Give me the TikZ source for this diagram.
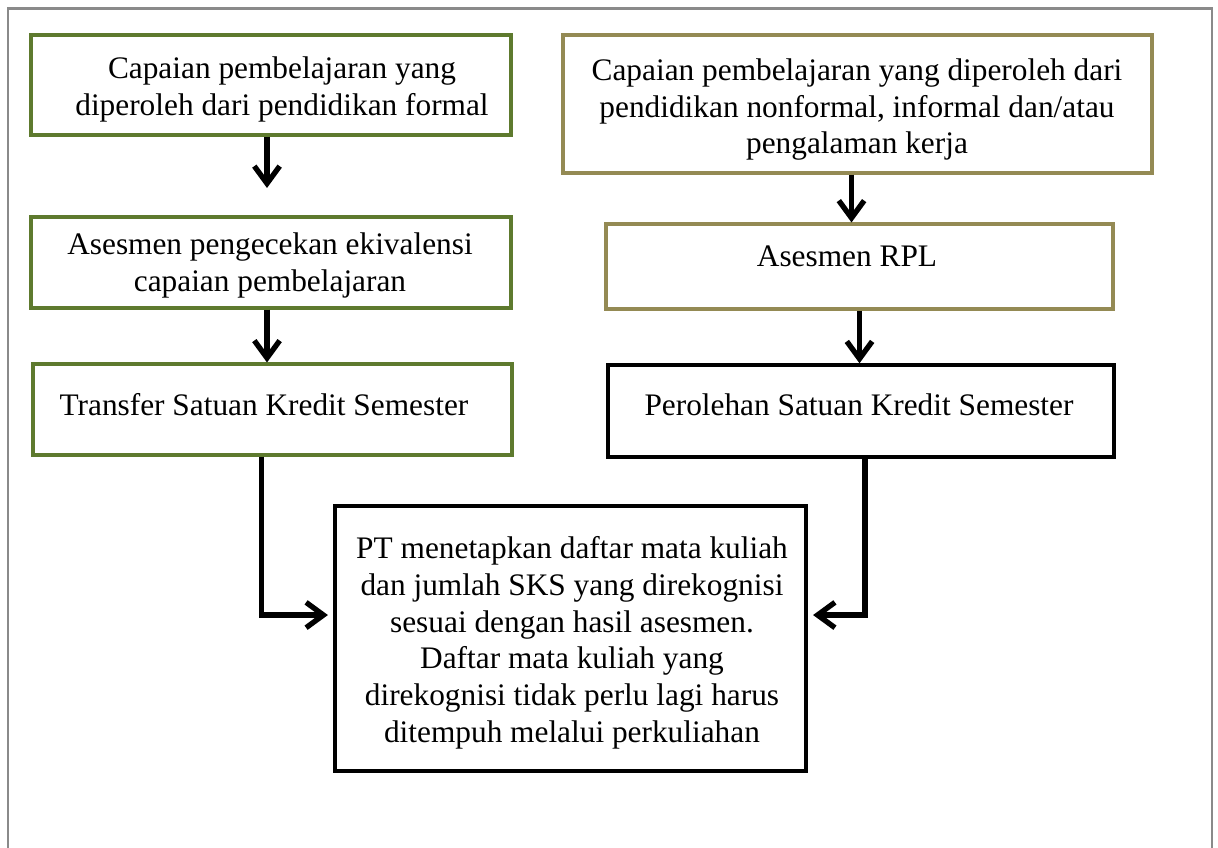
\documentclass[tikz,border=0pt]{standalone}
\usepackage{fontspec}
\setmainfont{Liberation Serif}
\usetikzlibrary{arrows.meta,positioning,calc}
\definecolor{olivegreen}{HTML}{5E7A2E}
\definecolor{tanbox}{HTML}{948A54}
\definecolor{framegray}{HTML}{8A8A8A}
\tikzset{
  boxbase/.style={draw, rectangle, inner sep=0pt, line width=2.3pt, fill=white},
  gbox/.style={boxbase, draw=olivegreen},
  tbox/.style={boxbase, draw=tanbox},
  kbox/.style={boxbase, draw=black, line width=2.6pt},
  txt/.style={inner sep=0pt, align=center, anchor=north, font={\fontsize{23.5pt}{27.5pt}\selectfont}},
  arr/.style={line width=4pt, -{Straight Barb[length=13pt, width=19pt]}},
}
\begin{document}
\begin{tikzpicture}[x=0.75pt,y=-0.75pt]
\useasboundingbox (0,0) rectangle (1218,848);
% outer frame (open at the bottom)
\draw[framegray, line width=1.6pt] (8,848) -- (8,8.5) -- (1212,8.5) -- (1212,848);

% left column
\node[gbox, minimum width=360pt, minimum height=75pt] (b1) at (271,85) {};
\node[txt] (t1) at (282,56.5) {Capaian pembelajaran yang\\diperoleh dari pendidikan formal};
\node[gbox, minimum width=360pt, minimum height=68.25pt] (b2) at (271,262.5) {};
\node[txt] (t2) at (270,232.5) {Asesmen pengecekan ekivalensi\\capaian pembelajaran};
\node[gbox, minimum width=359.25pt, minimum height=68.25pt] (b3) at (272.5,409.5) {};
\node[txt] (t3) at (264,393.5) {Transfer Satuan Kredit Semester};

% right column
\node[tbox, minimum width=441.75pt, minimum height=103.5pt] (r1) at (857.5,104) {};
\node[txt] (tr1) at (857,58.5) {Capaian pembelajaran yang diperoleh dari\\pendidikan nonformal, informal dan/atau\\pengalaman kerja};
\node[tbox, minimum width=380.25pt, minimum height=63.75pt] (r2) at (859.5,266.5) {};
\node[txt] (tr2) at (847,245.5) {Asesmen RPL};
\node[kbox, minimum width=379.5pt, minimum height=69pt] (r3) at (861,411) {};
\node[txt] (tr3) at (859,393.5) {Perolehan Satuan Kredit Semester};

% bottom box
\node[kbox, minimum width=353.25pt, minimum height=198.75pt] (b4) at (570.5,638.5) {};
\node[txt] (t4) at (572,536.5) {PT menetapkan daftar mata kuliah\\dan jumlah SKS yang direkognisi\\sesuai dengan hasil asesmen.\\Daftar mata kuliah yang\\direkognisi tidak perlu lagi harus\\ditempuh melalui perkuliahan};

% connectors
\coordinate (a1) at (267,188);
\draw[arr] (b1.south -| a1) -- (a1);
\draw[arr] ([xshift=-3pt]b2.south) -- ([xshift=-3pt]b2.south |- b3.north);
\draw[arr] ([xshift=-4.5pt]r1.south) -- ([xshift=-4.5pt]r1.south |- r2.north);
\draw[arr] (r2.south) -- (r2.south |- r3.north);
\draw[arr, shorten >=4pt] ([xshift=-8.5pt]b3.south) |- ([yshift=17.6pt]b4.west);
\draw[arr, shorten >=4pt] ([xshift=3pt]r3.south) |- ([yshift=17.6pt]b4.east);
\end{tikzpicture}
\end{document}
